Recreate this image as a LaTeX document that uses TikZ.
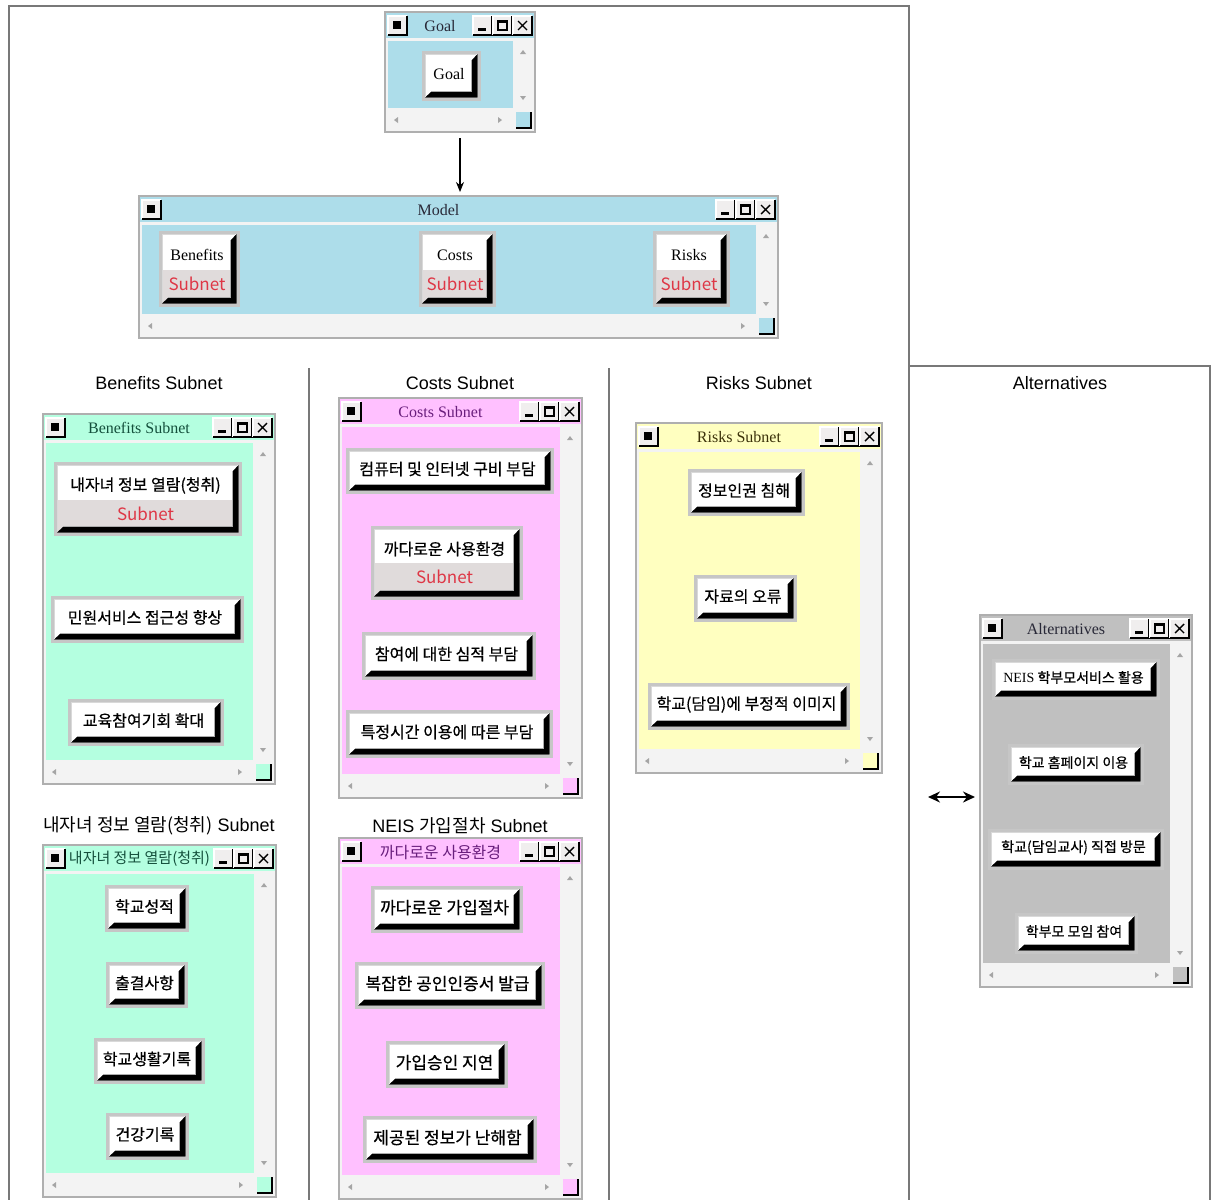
\documentclass[tikz,border=0pt]{standalone}
\usepackage{fontspec}
\setmainfont{Liberation Serif}
\newfontfamily\kr[FakeBold=0.6]{Noto Sans CJK KR}
\newfontfamily\krl{Noto Sans CJK KR}
\newfontfamily\labf{Liberation Sans}
\usetikzlibrary{arrows.meta}
\definecolor{cblue}{RGB}{173,221,234}
\definecolor{cmint}{RGB}{180,255,224}
\definecolor{cpink}{RGB}{255,192,255}
\definecolor{cyel}{RGB}{255,255,192}
\definecolor{cgray}{RGB}{192,192,192}
\definecolor{cscroll}{RGB}{243,243,243}
\definecolor{cframe}{RGB}{175,175,175}
\definecolor{cline}{RGB}{120,120,120}
\definecolor{csub}{RGB}{224,219,219}
\definecolor{cred}{RGB}{222,55,70}
\definecolor{tgreen}{RGB}{20,80,60}
\definecolor{tpurple}{RGB}{105,30,125}
\definecolor{tolive}{RGB}{60,50,10}
\definecolor{tdark}{RGB}{40,40,55}
\definecolor{tbfill}{RGB}{240,238,238}
\definecolor{arrowc}{RGB}{165,165,165}
\tikzset{
  winframe/.style={draw=cframe, fill=cscroll, line width=0.6pt, inner sep=0pt, outer sep=0pt},
  wintitle/.style={inner sep=0pt, font=\fontsize{8}{9}\selectfont},
  btnbox/.style={draw=gray!45, fill=white, line width=1.5pt, inner sep=0pt, outer sep=0pt, font=\kr\fontsize{8}{9.6}\selectfont},
  btntext/.style={inner sep=0pt, font=\kr\fontsize{8}{9.6}\selectfont},
  subtxt/.style={inner sep=0pt, text=cred, font=\krl\fontsize{8.5}{10}\selectfont},
  seclabel/.style={inner sep=0pt, font=\labf\fontsize{9}{11}\selectfont},
  sepline/.style={draw=cline, line width=0.7pt},
  conn/.style={-{Stealth[length=5pt,width=4pt]}, line width=0.6pt},
  dbl/.style={{Stealth[length=6pt,width=5.5pt]}-{Stealth[length=6pt,width=5.5pt]}, line width=0.9pt}
}
% title-bar button
\newcommand\tbtn[4]{%
  \fill[tbfill] (#1,#2) rectangle (#3,#4);
  \draw[white, line width=0.6pt] (#1,#4) -- (#1,#2) -- (#3,#2);
  \draw[black, line width=1.1pt] (#1,#4) -- (#3,#4) -- (#3,#2);
}
% window: name x1 y1 x2 y2 colour title titlecolour
\newcommand\appwin[8]{%
  \node[winframe, minimum width={(#4-#2)*0.5pt}, minimum height={(#5-#3)*0.5pt}, anchor=north west] (#1) at (#2,#3) {};
  \fill[#6] (#2+1,#3+1) rectangle (#4-1,#3+26);
  \fill[#6] (#2+3,#3+29) rectangle (#4-22,#5-24);
  \tbtn{#2+3}{#3+4}{#2+22}{#3+23}
  \fill[black] (#2+8,#3+9) rectangle (#2+16,#3+17);
  \tbtn{#4-62}{#3+4}{#4-43}{#3+23}
  \fill[black] (#4-57,#3+15.5) rectangle (#4-49,#3+19);
  \tbtn{#4-42}{#3+4}{#4-23}{#3+23}
  \draw[black, line width=0.6pt] (#4-37,#3+9) rectangle (#4-28,#3+18);
  \draw[black, line width=1pt] (#4-37,#3+9.5) -- (#4-28,#3+9.5);
  \tbtn{#4-22}{#3+4}{#4-3}{#3+23}
  \draw[black, line width=0.7pt] (#4-17,#3+9) -- (#4-8,#3+18) (#4-17,#3+18) -- (#4-8,#3+9);
  \node[wintitle, text=#8] (#1-title) at ({(#2+#4-40)/2},#3+14) {#7};
  \fill[arrowc] (#4-15,#3+42) -- (#4-9,#3+42) -- (#4-12,#3+38) -- cycle;
  \fill[arrowc] (#4-15,#5-36) -- (#4-9,#5-36) -- (#4-12,#5-32) -- cycle;
  \fill[arrowc] (#2+13,#5-15) -- (#2+13,#5-9) -- (#2+9,#5-12) -- cycle;
  \fill[arrowc] (#4-37,#5-15) -- (#4-37,#5-9) -- (#4-33,#5-12) -- cycle;
  \fill[#6] (#4-19,#5-20) rectangle (#4-4,#5-4);
  \draw[black, line width=0.8pt] (#4-19,#5-4) -- (#4-4,#5-4) -- (#4-4,#5-20);
}
% bevel shadow of a button: x1 y1 x2 y2
\newcommand\bevel[4]{%
  \draw[gray!30, line width=0.5pt] (#1+2.5,#4-3) -- (#1+2.5,#2+2.5) -- (#3-3,#2+2.5);
  \fill[black] (#3-1.5,#2+2) -- (#3-1.5,#4-1.5) -- (#1+2,#4-1.5) -- (#1+8,#4-7) -- (#3-7,#4-7) -- (#3-7,#2+8) -- cycle;
  \draw[gray!65, line width=0.5pt] (#1+8,#4-7.3) -- (#3-7.3,#4-7.3) -- (#3-7.3,#2+8);
}
% plain button: [opts]{name}{x1}{y1}{x2}{y2}{text}
\newcommand\btn[7][]{%
  \node[btnbox,#1, minimum width={(#5-#3)*0.5pt}, minimum height={(#6-#4)*0.5pt}] (#2) at ({(#3+#5)/2},{(#4+#6)/2}) {};
  \bevel{#3}{#4}{#5}{#6}
  \node[btntext,#1] (#2-t) at ({(#3+#5)/2-2},{(#4+#6)/2-1.5}) {#7};
}
% subnet button: [opts]{name}{x1}{y1}{x2}{y2}{ymid}{text}
\newcommand\sbtn[8][]{%
  \node[btnbox, minimum width={(#5-#3)*0.5pt}, minimum height={(#6-#4)*0.5pt}] (#2) at ({(#3+#5)/2},{(#4+#6)/2}) {};
  \fill[csub] (#3+1.5,#7) rectangle (#5-1.5,#6-1.5);
  \bevel{#3}{#4}{#5}{#6}
  \node[btntext,#1] (#2-t) at ({(#3+#5)/2-2},{(#4+#7)/2+4}) {#8};
  \node[subtxt] (#2-s) at ({(#3+#5)/2-2},{(#7+#6)/2-3.5}) {Subnet};
}
\begin{document}
\begin{tikzpicture}[x=0.5pt,y=-0.5pt]
\useasboundingbox[fill=white] (0,0) rectangle (1211,1200);
% frame lines
\draw[sepline] (9,1200) -- (9,6) -- (909,6) -- (909,1200);
\draw[sepline] (909,366) -- (1210,366) -- (1210,1200);
\draw[sepline] (309,368) -- (309,1200);
\draw[sepline] (609,368) -- (609,1200);

% section labels
\node[seclabel] (lab-ben) at (159,383) {Benefits Subnet};
\node[seclabel] (lab-cost) at (460,383) {Costs Subnet};
\node[seclabel] (lab-risk) at (759,383) {Risks Subnet};
\node[seclabel] (lab-alt) at (1060,383) {Alternatives};
\node[seclabel] (lab-info) at (159,826) {{\krl 내자녀 정보 열람(청취)} Subnet};
\node[seclabel] (lab-neis) at (460,826) {NEIS {\krl 가입절차} Subnet};

% Goal window
\appwin{goalwin}{385}{12}{535}{132}{cblue}{Goal}{tdark}
\btn[font=\rmfamily\fontsize{8}{9.6}\selectfont]{goal}{423}{52}{479}{99}{Goal}

% Model window
\appwin{modelwin}{139}{196}{778}{338}{cblue}{Model}{tdark}
\sbtn[font=\rmfamily\fontsize{8}{9.6}\selectfont]{mben}{160}{232}{238}{305}{270}{Benefits}
\sbtn[font=\rmfamily\fontsize{8}{9.6}\selectfont]{mcost}{420}{232}{494}{305}{270}{Costs}
\sbtn[font=\rmfamily\fontsize{8}{9.6}\selectfont]{mrisk}{654}{232}{728}{305}{270}{Risks}

% Benefits subnet
\appwin{benwin}{43}{414}{275}{784}{cmint}{Benefits Subnet}{tgreen}
\sbtn{b1}{55}{463}{240}{534}{500}{내자녀 정보 열람(청취)}
\btn{b2}{52}{597}{242}{641}{민원서비스 접근성 향상}
\btn{b3}{69}{700}{222}{744}{교육참여기회 확대}

% Costs subnet
\appwin{costwin}{339}{398}{582}{798}{cpink}{Costs Subnet}{tpurple}
\btn{c1}{347}{449}{552}{492}{컴퓨터 및 인터넷 구비 부담}
\sbtn{c2}{372}{527}{521}{598}{563}{까다로운 사용환경}
\btn{c3}{363}{633}{534}{678}{참여에 대한 심적 부담}
\btn{c4}{347}{711}{551}{756}{특정시간 이용에 따른 부담}

% Risks subnet
\appwin{riskwin}{636}{423}{882}{773}{cyel}{Risks Subnet}{tolive}
\btn{r1}{689}{470}{803}{514}{정보인권 침해}
\btn{r2}{695}{576}{795}{620}{자료의 오류}
\btn{r3}{649}{684}{848}{728}{학교(담임)에 부정적 이미지}

% Alternatives
\appwin{altwin}{980}{615}{1192}{987}{cgray}{Alternatives}{tdark}
\btn[font=\kr\fontsize{7}{8.4}\selectfont]{a1}{993}{660}{1158}{698}{{\rmfamily NEIS} 학부모서비스 활용}
\btn[font=\kr\fontsize{7}{8.4}\selectfont]{a2}{1009}{745}{1142}{783}{학교 홈페이지 이용}
\btn[font=\kr\fontsize{7}{8.4}\selectfont]{a3}{989}{830}{1162}{868}{학교(담임교사) 직접 방문}
\btn[font=\kr\fontsize{7}{8.4}\selectfont]{a4}{1016}{914}{1136}{952}{학부모 모임 참여}

% info subnet
\appwin{infowin}{43}{845}{276}{1197}{cmint}{\krl\fontsize{7.5}{9}\selectfont 내자녀 정보 열람(청취)}{tgreen}
\btn{i1}{106}{886}{187}{930}{학교성적}
\btn{i2}{107}{963}{186}{1006}{출결사항}
\btn{i3}{95}{1039}{203}{1082}{학교생활기록}
\btn{i4}{107}{1114}{187}{1158}{건강기록}

% NEIS subnet
\appwin{neiswin}{339}{838}{582}{1199}{cpink}{\krl\fontsize{8}{9.6}\selectfont 까다로운 사용환경}{tpurple}
\btn[font=\kr\fontsize{8.5}{10}\selectfont]{n1}{372}{887}{521}{931}{까다로운 가입절차}
\btn[font=\kr\fontsize{8.5}{10}\selectfont]{n2}{356}{963}{543}{1007}{복잡한 공인인증서 발급}
\btn[font=\kr\fontsize{8.5}{10}\selectfont]{n3}{387}{1042}{506}{1086}{가입승인 지연}
\btn[font=\kr\fontsize{8.5}{10}\selectfont]{n4}{364}{1117}{535}{1161}{제공된 정보가 난해함}

% connectors
\draw[conn, shorten <=3pt, shorten >=2pt] (goalwin.south) -- (goalwin.south |- modelwin.north);
\coordinate (alink) at (928,797);
\draw[dbl, shorten >=2.5pt] (alink) -- (alink -| altwin.west);
\end{tikzpicture}
\end{document}
